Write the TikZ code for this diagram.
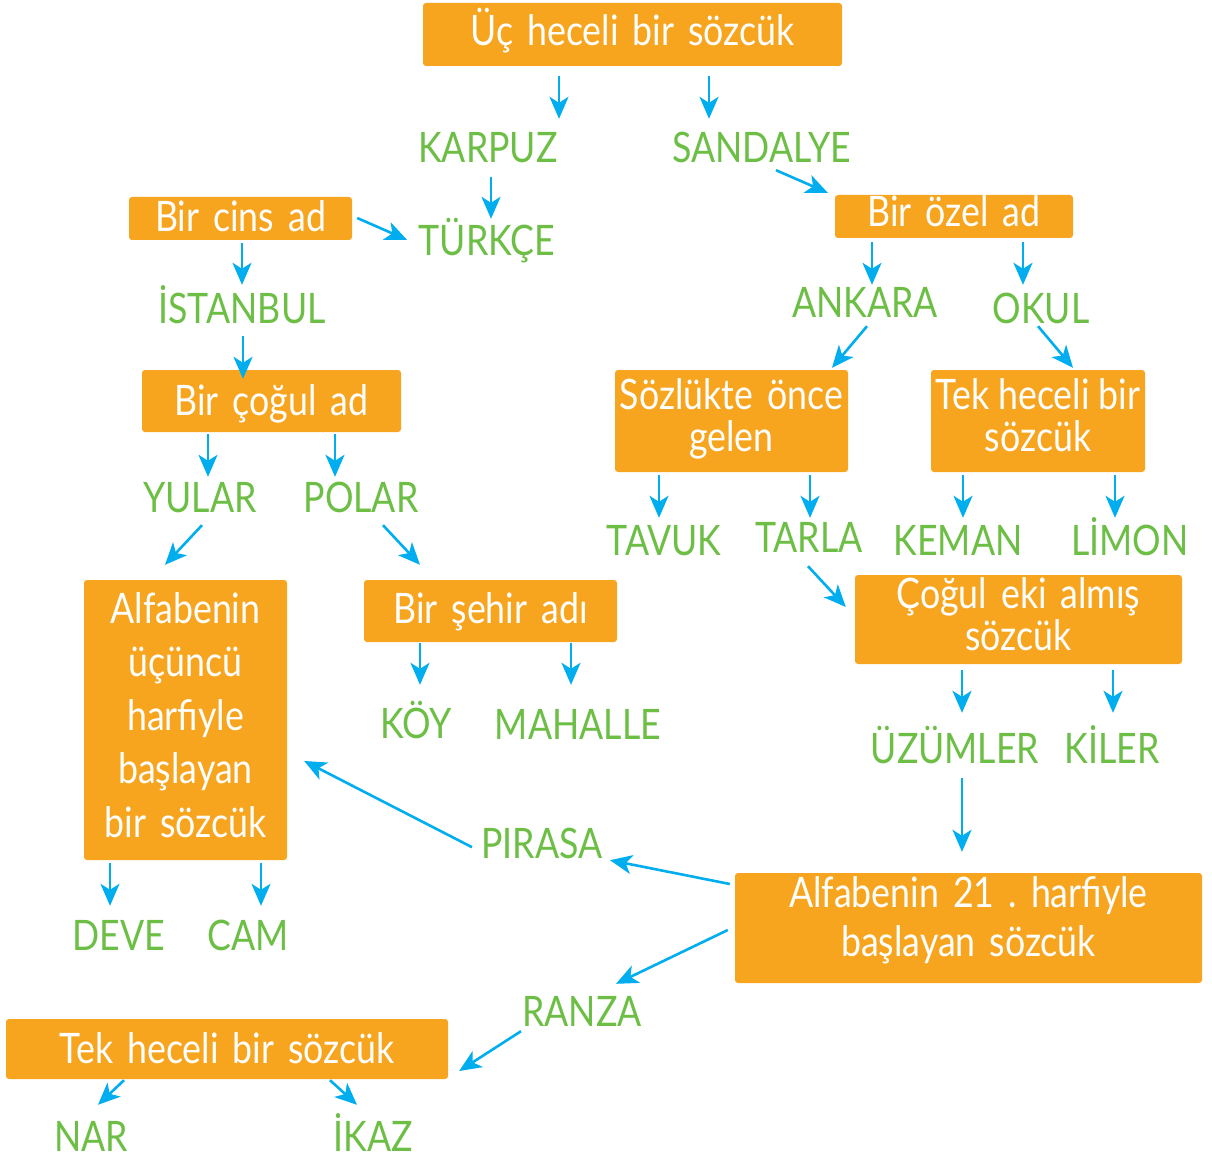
\documentclass[tikz,border=0pt]{standalone}
\usepackage{fontspec}
\setmainfont{Lato}[FakeStretch=0.85]
\frenchspacing
\usetikzlibrary{arrows.meta}
\definecolor{boxor}{HTML}{F7A51E}
\definecolor{wgreen}{HTML}{6CBE45}
\definecolor{arrblue}{HTML}{00AEEF}
\begin{document}
\begin{tikzpicture}[x=1pt,y=-1pt,
  word/.style={text=wgreen, font=\fontsize{42}{42}\selectfont, inner sep=0pt, text height=30pt, text depth=0pt, anchor=base},
  obox/.style={fill=boxor, rounded corners=3pt, text=white, inner sep=0pt, align=center, text height=30pt},
  arr/.style={draw=arrblue, line width=2.6pt, -{Stealth[length=22pt,width=19pt,inset=6pt]}}]
\useasboundingbox (0,0) rectangle (1212,1158);
% boxes
\node[obox, minimum width=419pt, minimum height=63pt, text width=415pt, text depth=7pt, font=\fontsize{42}{42}\selectfont] (top) at (632.5,34.5) {Üç heceli bir sözcük};
\node[obox, minimum width=223pt, minimum height=43pt, text width=219pt, text depth=3pt, font=\fontsize{42}{42}\selectfont] (cins) at (240.5,218.5) {Bir cins ad};
\node[obox, minimum width=238pt, minimum height=43pt, text width=234pt, text depth=9pt, font=\fontsize{42}{42}\selectfont] (ozel) at (954,216.5) {Bir özel ad};
\node[obox, minimum width=259pt, minimum height=62pt, text width=255pt, text depth=2pt, font=\fontsize{42}{42}\selectfont] (cogul) at (271.5,401) {Bir çoğul ad};
\node[obox, minimum width=233pt, minimum height=102pt, text width=229pt, text depth=54pt, font=\fontsize{42}{42}\selectfont] (sozluk) at (731.5,421) {\makebox[\linewidth]{Sözlükte önce}\\gelen};
\node[obox, minimum width=214pt, minimum height=102pt, text width=210pt, text depth=54pt, font=\fontsize{42}{42}\selectfont] (tekr) at (1038,421) {\makebox[\linewidth]{Tek\hspace{9pt}heceli\hspace{9pt}bir}\\sözcük};
\node[obox, minimum width=203pt, minimum height=280pt, text width=199pt, text depth=224pt, font=\fontsize{42}{53.5}\selectfont] (alf3) at (185.5,720) {Alfabenin\\üçüncü\\harfiyle\\başlayan\\bir~sözcük};
\node[obox, minimum width=253pt, minimum height=62pt, text width=249pt, text depth=6pt, font=\fontsize{42}{42}\selectfont] (sehir) at (490.5,611) {Bir şehir adı};
\node[obox, minimum width=327pt, minimum height=89pt, text width=323pt, text depth=53pt, font=\fontsize{42}{42}\selectfont] (cogulek) at (1018.5,619.5) {\makebox[\linewidth]{Çoğul eki almış}\\sözcük};
\node[obox, minimum width=467pt, minimum height=110pt, text width=463pt, text depth=72pt, font=\fontsize{42}{49}\selectfont] (alf21) at (968.5,928) {\makebox[\linewidth]{Alfabenin 21 . harfiyle}\\başlayan~sözcük};
\node[obox, minimum width=442pt, minimum height=60pt, text width=438pt, text depth=2pt, font=\fontsize{42}{42}\selectfont] (tekb) at (227,1049) {Tek heceli bir sözcük};
% words
\node[word] (karpuz) at (488,163) {KARPUZ};
\node[word] (sandalye) at (762,163) {SANDALYE};
\node[word] (turkce) at (487,256) {TÜRKÇE};
\node[word] (istanbul) at (242,323) {İSTANBUL};
\node[word] (ankara) at (865,317) {ANKARA};
\node[word] (okul) at (1041,323) {OKUL};
\node[word] (yular) at (200,512) {YULAR};
\node[word] (polar) at (361,512) {POLAR};
\node[word] (tavuk) at (664,555) {TAVUK};
\node[word] (tarla) at (809,552) {TARLA};
\node[word] (keman) at (958,555) {KEMAN};
\node[word] (limon) at (1130,555) {LİMON};
\node[word] (koy) at (416,738) {KÖY};
\node[word] (mahalle) at (578,739) {MAHALLE};
\node[word] (uzumler) at (955,763) {ÜZÜMLER};
\node[word] (kiler) at (1112,763) {KİLER};
\node[word] (pirasa) at (542,858) {PIRASA};
\node[word] (deve) at (119,950) {DEVE};
\node[word] (cam) at (248,950) {CAM};
\node[word] (ranza) at (582,1026) {RANZA};
\node[word] (nar) at (91,1151) {NAR};
\node[word] (ikaz) at (373,1151) {İKAZ};
% arrows
\draw[arr] ([shift={(-73.5,10)}]top.south) -- ([shift={(71,-14)}]karpuz.north);
\draw[arr] ([shift={(76.5,10)}]top.south) -- ([shift={(-53,-14)}]sandalye.north);
\draw[arr] ([shift={(3,14)}]karpuz.south) -- ([shift={(4,-7)}]turkce.north);
\draw[arr] ([shift={(14,7)}]sandalye.south) -- ([shift={(-7,-2)}]ozel.north west);
\draw[arr] ([shift={(5,-0.5)}]cins.east) -- ([shift={(-80,14)}]turkce.north);
\draw[arr] ([shift={(1.5,3)}]cins.south) -- ([shift={(0,-8)}]istanbul.north);
\draw[arr] ([shift={(1,13)}]istanbul.south) -- ([shift={(-28.5,9)}]cogul.north);
\draw[arr] ([shift={(-63.5,2)}]cogul.south) -- ([shift={(8,-5)}]yular.north);
\draw[arr] ([shift={(63.5,2)}]cogul.south) -- ([shift={(-26,-5)}]polar.north);
\draw[arr] ([shift={(2,13)}]yular.south) -- ([shift={(-20.5,-15)}]alf3.north);
\draw[arr] ([shift={(22,13)}]polar.south) -- ([shift={(-70.5,-15)}]sehir.north);
\draw[arr] ([shift={(-82,4)}]ozel.south) -- ([shift={(7,-2)}]ankara.north);
\draw[arr] ([shift={(69,4)}]ozel.south) -- ([shift={(-18,-8)}]okul.north);
\draw[arr] ([shift={(2,9)}]ankara.south) -- ([shift={(100.5,-2)}]sozluk.north);
\draw[arr] ([shift={(-3,3)}]okul.south) -- ([shift={(35,-2)}]tekr.north);
\draw[arr] ([shift={(-72.5,3)}]sozluk.south) -- ([shift={(-5,-7)}]tavuk.north);
\draw[arr] ([shift={(78.5,3)}]sozluk.south) -- ([shift={(1,-4)}]tarla.north);
\draw[arr] ([shift={(-75,3)}]tekr.south) -- ([shift={(5,-7)}]keman.north);
\draw[arr] ([shift={(77,3)}]tekr.south) -- ([shift={(-15,-7)}]limon.north);
\draw[arr] ([shift={(-1,14)}]tarla.south) -- ([shift={(-9,-12.5)}]cogulek.west);
\draw[arr] ([shift={(-70.5,1)}]sehir.south) -- ([shift={(4,-23)}]koy.north);
\draw[arr] ([shift={(80.5,1)}]sehir.south) -- ([shift={(-7,-24)}]mahalle.north);
\draw[arr] ([shift={(-56.5,6)}]cogulek.south) -- ([shift={(7,-20)}]uzumler.north);
\draw[arr] ([shift={(94.5,6)}]cogulek.south) -- ([shift={(1,-20)}]kiler.north);
\draw[arr] ([shift={(7,15)}]uzumler.south) -- ([shift={(-6.5,-21)}]alf21.north);
\draw[arr] ([shift={(-5,-44)}]alf21.west) -- ([shift={(68,2)}]pirasa.south);
\draw[arr] ([shift={(-70,-11)}]pirasa.south) -- ([shift={(17,41)}]alf3.east);
\draw[arr] ([shift={(-75.5,3)}]alf3.south) -- ([shift={(-9,-14)}]deve.north);
\draw[arr] ([shift={(75.5,3)}]alf3.south) -- ([shift={(13,-14)}]cam.north);
\draw[arr] ([shift={(-7,2)}]alf21.west) -- ([shift={(34,-12)}]ranza.north);
\draw[arr] ([shift={(-61,5)}]ranza.south) -- ([shift={(11,22)}]tekb.east);
\draw[arr] ([shift={(-103,1)}]tekb.south) -- ([shift={(7,-16)}]nar.north);
\draw[arr] ([shift={(103,1)}]tekb.south) -- ([shift={(-16,-16)}]ikaz.north);
\end{tikzpicture}
\end{document}
